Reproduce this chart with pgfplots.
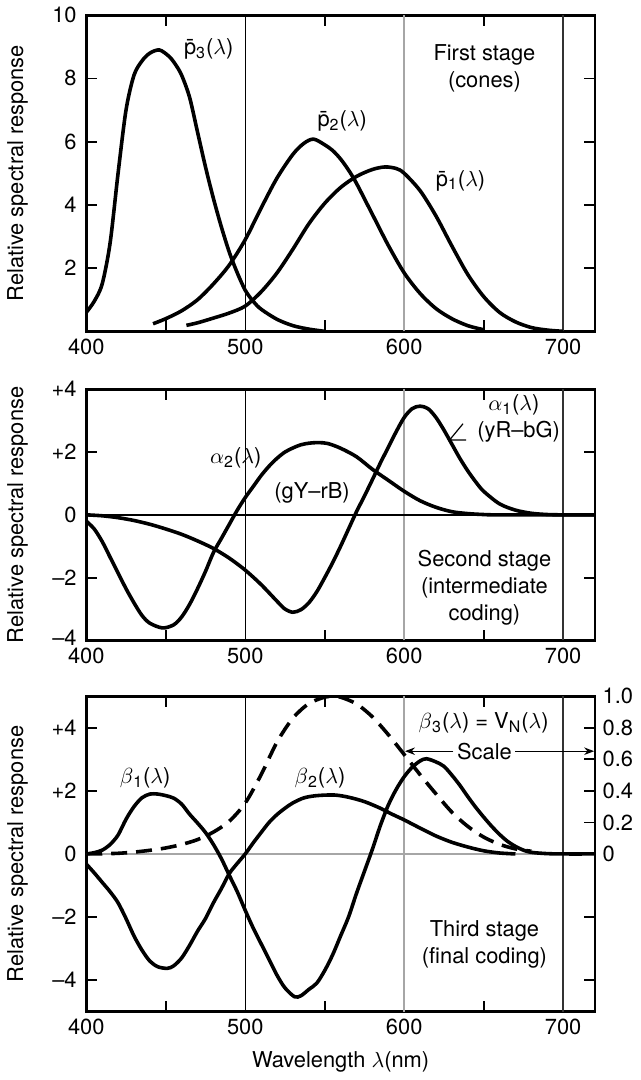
\documentclass[11pt,border=0pt]{standalone}
\usepackage{fontspec}
\setmainfont{TeX Gyre Heros}
\usepackage{pgfplots}
\pgfplotsset{compat=1.18}
\usetikzlibrary{arrows.meta}

% --- data ---
\pgfplotstableread{
x y
400 0.6
405 0.95
410 1.5
415 2.8
420 5.0
425 7.0
430 8.1
435 8.55
440 8.8
446 8.9
452 8.7
456 8.45
460 8.1
465 7.4
470 6.3
475 5.2
480 4.2
485 3.3
490 2.5
495 1.85
500 1.3
505 0.95
510 0.7
520 0.38
530 0.18
540 0.07
550 0.0
}\pthree
\pgfplotstableread{
x y
442 0.24
450 0.4
460 0.65
470 1.0
480 1.5
490 2.1
500 2.9
510 3.9
520 4.85
530 5.6
537 5.95
543 6.08
550 5.9
555 5.72
560 5.45
565 5.1
570 4.68
580 3.7
590 2.72
600 1.85
610 1.2
620 0.72
630 0.4
640 0.18
650 0.05
}\ptwo
\pgfplotstableread{
x y
463 0.19
470 0.27
480 0.42
490 0.58
500 0.8
510 1.25
520 1.85
530 2.6
540 3.4
550 4.05
560 4.55
570 4.9
580 5.12
588 5.2
595 5.15
600 5.0
610 4.45
620 3.65
630 2.7
640 1.8
650 1.1
660 0.6
670 0.3
680 0.12
690 0.04
700 0.0
}\pone
\pgfplotstableread{
x y
400 0.0
410 -0.03
420 -0.09
430 -0.18
440 -0.3
450 -0.45
460 -0.62
470 -0.83
480 -1.07
490 -1.38
500 -1.76
510 -2.22
520 -2.75
525 -3.0
530 -3.1
535 -3.02
540 -2.8
545 -2.45
550 -2.0
555 -1.52
560 -1.0
565 -0.45
570 0.1
575 0.6
580 1.12
585 1.65
590 2.15
595 2.65
600 3.1
605 3.38
610 3.46
615 3.38
620 3.1
625 2.7
630 2.25
635 1.8
640 1.4
645 1.05
650 0.75
660 0.35
670 0.15
680 0.05
690 0.01
700 0.0
720 0.0
}\alphaone
\pgfplotstableread{
x y
400 -0.2
405 -0.45
410 -0.85
415 -1.35
420 -1.85
425 -2.35
430 -2.8
435 -3.2
440 -3.45
448 -3.6
455 -3.5
460 -3.25
465 -2.85
470 -2.35
475 -1.8
480 -1.2
485 -0.75
490 -0.3
495 0.15
500 0.55
505 0.9
510 1.25
515 1.55
520 1.8
525 2.0
530 2.13
535 2.23
540 2.28
546 2.3
552 2.27
560 2.12
570 1.85
580 1.45
590 1.1
600 0.75
610 0.45
620 0.24
630 0.1
640 0.04
650 0.01
660 0.0
720 0.0
}\alphatwo
\pgfplotstableread{
x y
400 0.0
405 0.04
410 0.12
415 0.3
420 0.6
425 1.1
430 1.5
435 1.78
440 1.9
445 1.9
450 1.85
455 1.77
460 1.58
465 1.26
470 0.98
475 0.68
480 0.3
485 -0.15
490 -0.68
495 -1.2
500 -1.79
505 -2.35
510 -2.85
515 -3.35
520 -3.85
525 -4.25
531 -4.53
535 -4.5
540 -4.3
545 -4.1
550 -3.7
555 -3.2
560 -2.6
565 -2.0
570 -1.25
575 -0.55
580 0.15
585 0.9
590 1.55
595 2.05
600 2.45
605 2.75
610 2.95
614 3.02
620 2.92
625 2.78
630 2.5
635 2.18
640 1.82
645 1.48
650 1.17
655 0.88
660 0.62
665 0.4
670 0.24
675 0.12
680 0.05
690 0.01
700 0.0
720 0.0
}\betaone
\pgfplotstableread{
x y
400 -0.32
405 -0.6
410 -0.9
415 -1.2
420 -1.55
425 -2.05
430 -2.6
435 -3.05
440 -3.4
445 -3.58
451 -3.63
455 -3.55
460 -3.3
465 -2.9
470 -2.45
475 -2.05
480 -1.55
485 -1.1
490 -0.62
495 -0.3
500 0.0
505 0.35
510 0.68
515 1.0
520 1.25
525 1.45
530 1.62
537 1.78
545 1.85
556 1.87
565 1.8
575 1.66
585 1.45
592 1.27
600 1.08
610 0.82
620 0.57
630 0.37
640 0.22
650 0.1
660 0.03
670 0.0
}\betatwo
\pgfplotstableread{
x y
400 0.002
410 0.006
420 0.02
430 0.058
440 0.115
450 0.19
460 0.30
470 0.455
480 0.695
490 1.04
500 1.615
510 2.515
520 3.55
530 4.31
540 4.77
550 4.975
555 5.0
560 4.975
570 4.76
580 4.35
590 3.785
600 3.155
610 2.515
620 1.905
630 1.325
640 0.875
650 0.535
660 0.305
670 0.16
680 0.085
}\betathree

\pgfplotsset{
  stage/.style={
    scale only axis, width=255pt,
    xmin=400, xmax=720,
    xtick={400,500,600,700},
    minor xtick={450,550,650},
    major x tick style={draw=none},
    tick align=inside,
    major tick length=5.5pt, minor tick length=5.5pt,
    tick style={black, line width=0.9pt},
    axis line style={line width=1.4pt},
    /pgf/number format/assume math mode=true,
    yticklabel style={xshift=-1pt},
    ylabel={Relative spectral response},
    every axis y label/.style={at={(axis description cs:-0.135,0.5)}, rotate=90, anchor=center},
    every axis x label/.style={at={(axis description cs:0.5,0)}, anchor=center, yshift=-25.5pt},
  },
  curve/.style={black, line width=1.8pt, smooth, no markers},
}

\begin{document}
\begin{tikzpicture}
% First stage
\begin{axis}[stage, name=top, height=158.5pt,
  ymin=0, ymax=10, ytick={2,4,6,8,10}]
\draw[black, line width=0.7pt] (axis cs:500,0) -- (axis cs:500,10);
\draw[gray!70, line width=1pt] (axis cs:600,0) -- (axis cs:600,10);
\draw[black!80, line width=0.7pt] (axis cs:700,0) -- (axis cs:700,10);
\addplot[curve] table {\pthree};
\addplot[curve] table {\ptwo};
\addplot[curve] table {\pone};
\node at (axis cs:477,8.93) {\=p\textsubscript{3}($\lambda$)};
\node at (axis cs:561,6.66) {\=p\textsubscript{2}($\lambda$)};
\node at (axis cs:635.5,4.77) {\=p\textsubscript{1}($\lambda$)};
\node[align=center] at (axis cs:650.5,8.32) {First stage\\(cones)};
\end{axis}

% Second stage
\begin{axis}[stage, name=mid, height=126pt,
  at={(top.south west)}, anchor=north west, yshift=-29pt,
  ymin=-4, ymax=4, ytick={-4,-2,0,2,4},
  yticklabels={\raisebox{3pt}{--4},--2,0,+2,+4}]
\draw[black, line width=0.7pt] (axis cs:500,-4) -- (axis cs:500,4);
\draw[gray!70, line width=1pt] (axis cs:600,-4) -- (axis cs:600,4);
\draw[black!80, line width=0.7pt] (axis cs:700,-4) -- (axis cs:700,4);
\draw[black, line width=0.7pt] (axis cs:400,0) -- (axis cs:720,0);
\addplot[curve] table {\alphaone};
\addplot[curve] table {\alphatwo};
\node at (axis cs:494,1.8) {$\alpha$\textsubscript{2}($\lambda$)};
\node at (axis cs:542,0.69) {(gY--rB)};
\node at (axis cs:669,3.49) {$\alpha$\textsubscript{1}($\lambda$)};
\node at (axis cs:672,2.65) {(yR--bG)};
\draw[line width=0.6pt] (axis cs:637,2.9) -- (axis cs:628.5,2.38) -- (axis cs:639,2.38);
\node[align=center] at (axis cs:650.5,-2.31) {Second stage\\(intermediate\\coding)};
\end{axis}

% Third stage
\begin{axis}[stage, name=bot, height=158pt,
  at={(mid.south west)}, anchor=north west, yshift=-28pt,
  ymin=-5, ymax=5, ytick={-4,-2,0,2,4}, yticklabels={--4,--2,0,+2,+4},
  xlabel={Wavelength $\lambda$(nm)}]
\draw[black, line width=0.7pt] (axis cs:500,-5) -- (axis cs:500,5);
\draw[gray!70, line width=1pt] (axis cs:600,-5) -- (axis cs:600,5);
\draw[black!80, line width=0.7pt] (axis cs:700,-5) -- (axis cs:700,5);
\draw[gray!70, line width=1pt] (axis cs:400,0) -- (axis cs:720,0);
\addplot[curve] table {\betaone};
\addplot[curve] table {\betatwo};
\addplot[curve, dash pattern=on 8pt off 4.5pt] table {\betathree};
\node at (axis cs:437,2.42) {$\beta$\textsubscript{1}($\lambda$)};
\node at (axis cs:547,2.42) {$\beta$\textsubscript{2}($\lambda$)};
\node at (axis cs:650,4.16) {$\beta$\textsubscript{3}($\lambda$) = V\textsubscript{N}($\lambda$)};
\node at (axis cs:650.5,3.26) {Scale};
\draw[-{Stealth[length=5pt]}, line width=0.6pt] (axis cs:631,3.26) -- (axis cs:600.5,3.26);
\draw[-{Stealth[length=5pt]}, line width=0.6pt] (axis cs:670,3.26) -- (axis cs:719.5,3.26);
\node[align=center] at (axis cs:650.5,-2.87) {Third stage\\(final coding)};
\end{axis}
\begin{axis}[scale only axis, width=255pt, height=158pt,
  at={(bot.south west)}, anchor=south west,
  xmin=400, xmax=720, ymin=-1, ymax=1,
  hide x axis, axis y line*=right,
  ytick={0,0.2,0.4,0.6,0.8,1}, yticklabels={0,0.2,0.4,0.6,0.8,1.0},
  tick align=inside, major tick length=5.5pt,
  tick style={black, line width=0.9pt},
  axis line style={line width=1.4pt}]
\addplot[draw=none] coordinates {(400,0)};
\end{axis}
\end{tikzpicture}
\end{document}
